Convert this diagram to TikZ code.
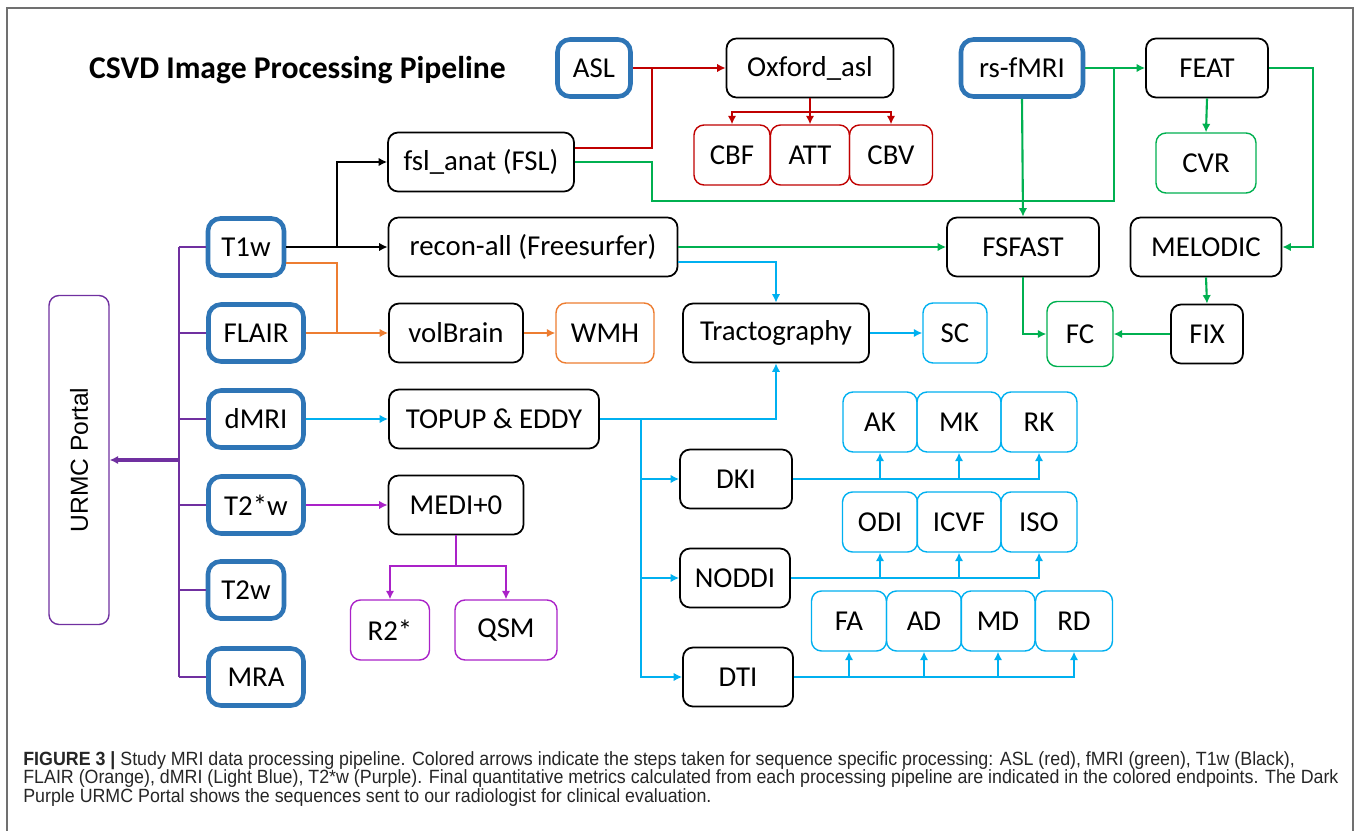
\documentclass[tikz,border=0pt]{standalone}
\usepackage{fontspec}
\setmainfont{Carlito}
\newfontfamily\capfont[FakeStretch=0.93]{Liberation Sans}
\newfontfamily\portalfont{Liberation Sans}
\usetikzlibrary{arrows.meta,calc}

\definecolor{seqBlue}{HTML}{2E75B6}
\definecolor{aslRed}{HTML}{C00000}
\definecolor{fmriGreen}{HTML}{00B050}
\definecolor{flairOrange}{HTML}{ED7D31}
\definecolor{dmriBlue}{HTML}{00B0F0}
\definecolor{portalPurple}{HTML}{7030A0}
\definecolor{medPurple}{HTML}{AA22C8}
\definecolor{frameGray}{HTML}{707070}

\begin{document}
\begin{tikzpicture}
  [x=0.2mm, y=-0.2mm,
   font=\fontsize{16.4}{18}\selectfont,
   boxN/.style={draw,rounded corners=0.2cm,line width=1pt,minimum height=1.18cm,inner sep=0pt},
   seqN/.style={boxN,draw=seqBlue,line width=2.6pt,rounded corners=0.25cm,minimum height=1.14cm},
   endN/.style={boxN,line width=0.8pt,minimum height=1.2cm},
   redN/.style={endN,draw=aslRed},
   grnN/.style={endN,draw=fmriGreen},
   orgN/.style={endN,draw=flairOrange},
   bluN/.style={endN,draw=dmriBlue},
   magN/.style={endN,draw=medPurple},
   conn/.style={line width=1.2pt},
   arr/.style={-{Latex[length=1.7mm,width=1.7mm]}},
   blkL/.style={conn,black},
   redL/.style={conn,aslRed},
   grnL/.style={conn,fmriGreen},
   orgL/.style={conn,flairOrange},
   bluL/.style={conn,dmriBlue,line width=1.5pt},
   purL/.style={conn,portalPurple},
   magL/.style={conn,medPurple},
  ]

 \path[fill=white,use as bounding box] (0,0) rectangle (1357,831);
 \draw[frameGray,line width=0.8pt] (7,831) -- (7,8) -- (1353,8) -- (1353,831);

 \node[anchor=west,font=\fontsize{18}{20}\selectfont\bfseries] (title) at (83,70) {CSVD Image Processing Pipeline};

 % sequences
 \node[seqN,minimum width=1.46cm] (ASL) at (594,68) {ASL};
 \node[seqN,minimum width=2.44cm] (rsfMRI) at (1022,68) {rs-fMRI};
 \node[seqN,minimum width=1.52cm] (T1w) at (246,247) {T1w};
 \node[seqN,minimum width=1.9cm] (FLAIR) at (256,333) {FLAIR};
 \node[seqN,minimum width=1.9cm] (dMRI) at (256,419) {dMRI};
 \node[seqN,minimum width=1.9cm] (T2sw) at (256,505) {T2*w};
 \node[seqN,minimum width=1.52cm] (T2w) at (246,590) {T2w};
 \node[seqN,minimum width=1.9cm] (MRA) at (256,677) {MRA};
 \node[draw=portalPurple,line width=0.8pt,rounded corners=0.2cm,rotate=90,
       minimum width=6.58cm,minimum height=1.2cm,font=\portalfont\fontsize{14}{16}\selectfont] (URMC) at (79,460) {URMC Portal};

 % processing steps
 \node[boxN,minimum width=3.34cm] (Oxford) at (810,68) {Oxford\_asl};
 \node[boxN,minimum width=2.44cm] (FEAT) at (1207,68) {FEAT};
 \node[boxN,minimum width=3.72cm] (fslanat) at (481,162) {fsl\_anat (FSL)};
 \node[boxN,minimum width=5.78cm] (recon) at (533,247) {recon-all (Freesurfer)};
 \node[boxN,minimum width=3.04cm] (FSFAST) at (1023,247) {FSFAST};
 \node[boxN,minimum width=3.02cm] (MELODIC) at (1206,247) {MELODIC};
 \node[boxN,minimum width=2.68cm] (volBrain) at (456,333) {volBrain};
 \node[boxN,minimum width=3.72cm] (Tracto) at (776,333) {Tractography};
 \node[boxN,minimum width=1.44cm] (FIX) at (1207,334) {FIX};
 \node[boxN,minimum width=4.2cm] (TOPUP) at (494,419) {TOPUP \& EDDY};
 \node[boxN,minimum width=2.24cm] (DKI) at (736,479) {DKI};
 \node[boxN,minimum width=2.2cm] (NODDI) at (735,578) {NODDI};
 \node[boxN,minimum width=2.2cm] (DTI) at (738,677) {DTI};
 \node[boxN,minimum width=2.7cm] (MEDI) at (456,505) {MEDI+0};

 % end points
 \node[redN,minimum width=1.52cm] (CBF) at (732,155) {CBF};
 \node[redN,minimum width=1.58cm] (ATT) at (810,155) {ATT};
 \node[redN,minimum width=1.66cm] (CBV) at (891,155) {CBV};
 \node[grnN,minimum width=2cm] (CVR) at (1206,163) {CVR};
 \node[grnN,minimum width=1.32cm,minimum height=1.3cm] (FC) at (1080,334) {FC};
 \node[orgN,minimum width=1.96cm] (WMH) at (605,333) {WMH};
 \node[bluN,minimum width=1.28cm] (SC) at (955,333) {SC};
 \node[bluN,minimum width=1.48cm] (AK) at (880,422) {AK};
 \node[bluN,minimum width=1.68cm] (MK) at (959,422) {MK};
 \node[bluN,minimum width=1.52cm] (RK) at (1039,422) {RK};
 \node[bluN,minimum width=1.5cm] (ODI) at (880,522) {ODI};
 \node[bluN,minimum width=1.68cm] (ICVF) at (959,522) {ICVF};
 \node[bluN,minimum width=1.52cm] (ISO) at (1039,522) {ISO};
 \node[bluN,minimum width=1.5cm] (FA) at (849,621) {FA};
 \node[bluN,minimum width=1.5cm] (AD) at (924,621) {AD};
 \node[bluN,minimum width=1.48cm] (MD) at (998,621) {MD};
 \node[bluN,minimum width=1.54cm] (RD) at (1074,621) {RD};
 \node[magN,minimum width=1.58cm] (R2s) at (390,630) {R2*};
 \node[magN,minimum width=2.04cm] (QSM) at (506,630) {QSM};

 % junctions
 \coordinate (kJ) at (337,247);
 \coordinate (oJ) at (337,333);
 \coordinate (rJ) at (652,68);
 \coordinate (gA) at (652,201);
 \coordinate (gB) at (1114,201);
 \coordinate (gC) at (1114,68);
 \coordinate (bJ) at (641,419);
 \coordinate (pb) at (179,247);

 % T1w
 \draw[blkL,arr] (T1w.east) -- (recon.west);
 \draw[blkL,arr] (kJ) |- (fslanat.west);
 % FLAIR
 \draw[orgL] ($(T1w.east)+(0,16)$) -| (oJ);
 \draw[orgL,arr] (FLAIR.east) -- (volBrain.west);
 \draw[orgL,arr] (volBrain.east) -- (WMH.west);
 % ASL
 \draw[redL,arr] (ASL.east) -- (Oxford.west);
 \draw[redL] (rJ) |- ($(fslanat.east)+(0,-14)$);
 \draw[redL] (Oxford.south) -- ++(0,14) coordinate (rK);
 \draw[redL,arr] (rK) -| (CBF.north);
 \draw[redL,arr] (rK) -- (ATT.north);
 \draw[redL,arr] (rK) -| (CBV.north);
 % rs-fMRI
 \draw[grnL] (fslanat.east) -| (gA) -- (gB) -- (gC);
 \draw[grnL,arr] (rsfMRI.east) -- (FEAT.west);
 \draw[grnL,arr] (rsfMRI.south) -- (FSFAST.north);
 \draw[grnL,arr] (recon.east) -- (FSFAST.west);
 \draw[grnL,arr] (FEAT.south) -- (CVR.north);
 \draw[grnL,arr] (FEAT.east) -- ++(44,0) |- (MELODIC.east);
 \draw[grnL,arr] (MELODIC.south) -- (FIX.north);
 \draw[grnL,arr] (FSFAST.south) |- (FC.west);
 \draw[grnL,arr] (FIX.west) -- (FC.east);
 % dMRI
 \draw[bluL,arr] ($(recon.east)+(0,15)$) -| (Tracto.north);
 \draw[bluL,arr] (Tracto.east) -- (SC.west);
 \draw[bluL,arr] (dMRI.east) -- (TOPUP.west);
 \draw[bluL,arr] (TOPUP.east) -| (Tracto.south);
 \foreach \m in {DKI,NODDI,DTI}
   \draw[bluL,arr] (bJ) |- (\m.west);
 \draw[bluL,arr] (DKI.east) -| (RK.south);
 \foreach \m in {AK,MK}
   \draw[bluL,arr] (DKI.east -| \m.south) -- (\m.south);
 \draw[bluL,arr] (NODDI.east) -| (ISO.south);
 \foreach \m in {ODI,ICVF}
   \draw[bluL,arr] (NODDI.east -| \m.south) -- (\m.south);
 \draw[bluL,arr] (DTI.east) -| (RD.south);
 \foreach \m in {FA,AD,MD}
   \draw[bluL,arr] (DTI.east -| \m.south) -- (\m.south);
 % T2*w
 \draw[magL,arr] (T2sw.east) -- (MEDI.west);
 \draw[magL] (MEDI.south) -- ++(0,31) coordinate (mJ);
 \draw[magL,arr] (mJ) -| (R2s.north);
 \draw[magL,arr] (mJ) -| (QSM.north);
 % portal
 \draw[purL] (pb) -- (pb |- MRA.west);
 \foreach \s in {T1w,FLAIR,dMRI,T2sw,T2w,MRA}
   \draw[purL] (\s.west) -- (\s.west -| pb);
 \draw[purL,line width=2.2pt,arr] (URMC.south -| pb) -- (URMC.south);

 \node[anchor=north west,align=left,inner sep=0pt,text=black!85,
       font=\capfont\fontsize{10.9}{10.6}\selectfont] (caption) at (23,751)
  {\textbf{FIGURE 3 |} Study MRI data processing pipeline. Colored arrows indicate the steps taken for sequence specific processing: ASL (red), fMRI (green), T1w (Black),\\
   FLAIR (Orange), dMRI (Light Blue), T2*w (Purple). Final quantitative metrics calculated from each processing pipeline are indicated in the colored endpoints. The Dark\\
   Purple URMC Portal shows the sequences sent to our radiologist for clinical evaluation.};
\end{tikzpicture}
\end{document}
